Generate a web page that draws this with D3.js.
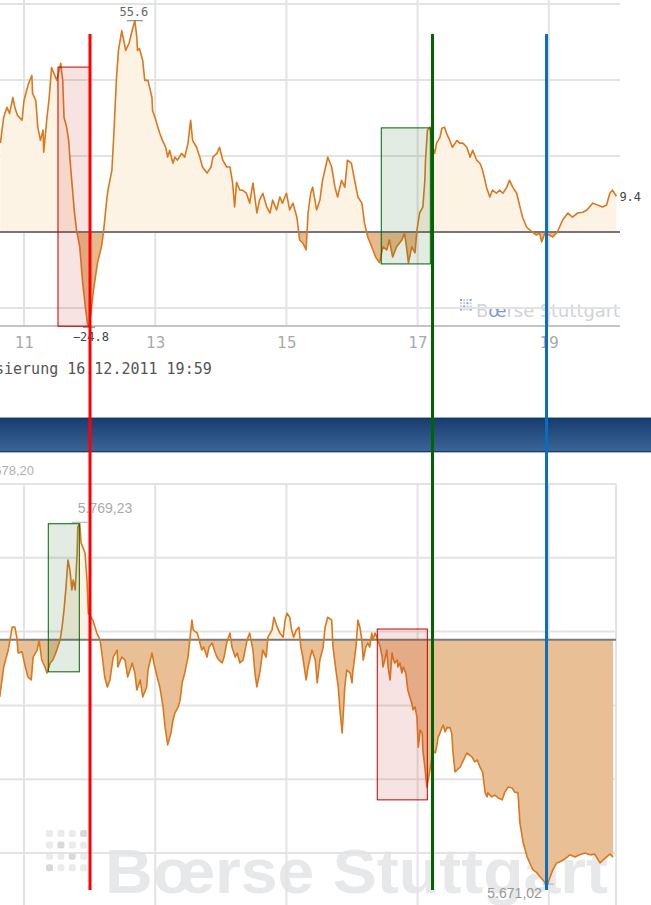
<!DOCTYPE html>
<html><head><meta charset="utf-8">
<script src="https://cdn.jsdelivr.net/npm/d3@7"></script>
<style>html,body{margin:0;padding:0;background:#fff;overflow:hidden}</style>
</head><body>
<svg id="c" width="651" height="905"></svg>
<script>
// ---------- DATA ----------
const hourTicks = [11, 13, 15, 17, 19];
const topGrid = [-20, 0, 20, 40, 60];
const bottomGrid = [5680, 5700, 5720, 5740, 5760, 5780];
const topRef = 0;
const bottomRef = 5737.8;

const topTime = [10.64,10.69,10.74,10.78,10.83,10.86,10.90,10.97,11.00,11.04,11.07,11.12,11.13,11.18,11.21,11.25,11.29,11.30,11.35,11.38,11.42,11.45,11.50,11.56,11.59,11.61,11.65,11.68,11.71,11.74,11.77,11.80,11.85,11.89,11.94,11.97,11.99,12.02,12.06,12.12,12.18,12.21,12.26,12.28,12.34,12.37,12.41,12.44,12.49,12.52,12.55,12.60,12.66,12.69,12.72,12.73,12.76,12.81,12.84,12.89,12.95,12.96,13.01,13.04,13.07,13.11,13.16,13.19,13.22,13.27,13.30,13.34,13.40,13.45,13.50,13.54,13.57,13.63,13.68,13.72,13.79,13.85,13.88,13.94,13.98,14.03,14.09,14.14,14.18,14.21,14.24,14.29,14.33,14.39,14.44,14.49,14.55,14.59,14.64,14.70,14.75,14.79,14.85,14.90,14.94,15.00,15.05,15.10,15.16,15.20,15.25,15.30,15.33,15.37,15.40,15.46,15.51,15.55,15.61,15.63,15.69,15.74,15.78,15.84,15.89,15.93,15.99,16.04,16.09,16.15,16.19,16.24,16.30,16.36,16.42,16.47,16.53,16.57,16.62,16.68,16.76,16.80,16.83,16.86,16.91,16.96,16.99,17.03,17.08,17.11,17.12,17.15,17.19,17.23,17.26,17.29,17.34,17.37,17.41,17.44,17.49,17.53,17.60,17.64,17.69,17.75,17.80,17.84,17.90,17.95,17.99,18.05,18.10,18.14,18.20,18.25,18.30,18.36,18.40,18.45,18.51,18.56,18.60,18.66,18.75,18.81,18.86,18.89,18.94,19.01,19.06,19.13,19.21,19.29,19.36,19.44,19.52,19.58,19.62,19.67,19.74,19.82,19.88,19.93,19.97,20.03];
const topValue = [23.4,30.2,32.8,31.2,35.4,32.8,30.7,29.4,34.6,37.3,39.1,41.2,36.5,34.6,27.6,24.1,26.8,21.0,30.2,34.6,43.3,42.0,39.9,44.4,39.9,30.2,27.6,24.1,17.1,11.0,5.0,0.5,-3.9,-12.6,-20.5,-24.4,-24.8,-21.3,-15.2,-8.1,-3.9,-0.3,8.4,11.0,16.3,26.0,40.7,47.8,53.0,50.4,47.8,49.6,53.8,55.6,51.2,47.8,48.3,45.1,39.9,39.9,35.4,32.0,29.4,27.6,26.0,24.1,22.3,19.7,21.5,18.1,19.7,18.9,20.7,19.7,23.4,29.4,24.1,22.3,19.7,17.1,15.5,17.1,19.7,20.7,22.3,18.9,17.1,17.1,12.9,6.6,13.1,11.0,11.0,10.2,7.6,12.9,5.0,8.4,10.2,6.6,5.0,8.4,5.8,9.2,7.6,10.2,5.8,7.6,3.9,-2.1,-2.9,-4.7,5.0,10.2,11.8,5.8,8.4,13.6,18.1,19.7,17.1,11.8,9.2,13.6,11.8,18.9,18.1,13.6,9.2,7.6,2.4,-1.3,-3.9,-6.6,-8.1,-3.9,-4.7,-2.1,-6.6,-3.9,-2.1,-0.3,-3.9,-8.1,-3.9,-5.5,0.5,5.0,6.6,13.6,18.9,26.8,27.6,22.3,20.7,23.4,24.9,27.3,27.6,26.0,24.1,22.3,24.1,23.4,23.4,22.3,19.7,21.5,18.9,18.1,16.3,11.8,9.2,11.0,10.2,11.0,10.2,11.8,13.6,11.8,10.2,6.6,3.9,1.3,0.0,-0.8,-0.3,-2.6,-0.3,-0.8,-1.3,0.0,3.1,5.0,3.9,5.0,5.2,5.8,6.6,7.6,7.1,6.6,7.1,10.2,11.0,9.4];

const bottomTime = [10.63,10.69,10.76,10.82,10.86,10.89,10.91,10.97,11.02,11.06,11.11,11.14,11.20,11.23,11.27,11.32,11.35,11.40,11.44,11.47,11.50,11.55,11.58,11.61,11.64,11.67,11.70,11.73,11.75,11.78,11.81,11.82,11.85,11.87,11.90,11.93,11.96,11.98,12.02,12.05,12.11,12.16,12.20,12.23,12.27,12.31,12.36,12.42,12.43,12.49,12.54,12.58,12.65,12.69,12.72,12.77,12.81,12.87,12.89,12.95,12.98,13.03,13.07,13.12,13.15,13.18,13.19,13.24,13.27,13.30,13.35,13.38,13.41,13.45,13.50,13.56,13.58,13.64,13.67,13.71,13.74,13.79,13.82,13.87,13.90,13.94,13.97,14.02,14.05,14.09,14.14,14.17,14.22,14.25,14.29,14.34,14.37,14.40,14.44,14.49,14.52,14.55,14.60,14.64,14.69,14.72,14.78,14.81,14.86,14.90,14.95,14.98,15.01,15.05,15.08,15.11,15.15,15.19,15.22,15.25,15.30,15.33,15.39,15.44,15.47,15.51,15.56,15.59,15.63,15.69,15.71,15.76,15.79,15.82,15.85,15.89,15.92,15.97,16.00,16.01,16.06,16.09,16.12,16.15,16.17,16.21,16.24,16.27,16.30,16.32,16.35,16.38,16.43,16.46,16.47,16.50,16.53,16.55,16.58,16.61,16.62,16.65,16.69,16.70,16.73,16.76,16.78,16.82,16.85,16.88,16.91,16.93,16.96,16.99,17.01,17.04,17.07,17.08,17.11,17.14,17.17,17.22,17.23,17.27,17.30,17.31,17.34,17.37,17.39,17.42,17.45,17.46,17.49,17.52,17.54,17.57,17.65,17.75,17.83,17.87,17.91,17.95,17.99,18.03,18.06,18.07,18.13,18.18,18.23,18.29,18.33,18.38,18.44,18.48,18.53,18.56,18.61,18.67,18.71,18.76,18.82,18.87,18.91,18.97,19.02,19.06,19.12,19.17,19.22,19.28,19.32,19.40,19.47,19.55,19.63,19.70,19.78,19.86,19.93,19.98];
const bottomValue = [5722.3,5730.4,5735.0,5741.2,5741.2,5738.5,5734.2,5734.5,5730.4,5727.7,5726.9,5733.1,5735.0,5737.7,5732.3,5730.4,5728.8,5731.5,5732.3,5733.6,5735.0,5737.7,5741.2,5745.9,5752.1,5759.4,5756.7,5751.3,5754.0,5751.3,5761.3,5768.3,5769.23,5764.0,5762.7,5761.3,5754.0,5745.0,5743.9,5743.1,5739.6,5737.7,5732.3,5727.7,5725.0,5726.9,5733.1,5735.0,5730.4,5733.1,5732.3,5727.7,5731.5,5728.8,5724.2,5726.9,5722.3,5725.0,5729.6,5734.2,5731.5,5727.7,5725.0,5719.6,5714.1,5710.6,5709.3,5712.5,5716.0,5717.9,5719.6,5721.5,5726.1,5728.8,5733.1,5743.1,5740.4,5739.6,5737.7,5735.0,5735.8,5733.1,5735.8,5736.9,5735.0,5733.1,5732.3,5731.5,5733.1,5736.9,5739.6,5735.8,5733.1,5734.2,5731.5,5732.3,5735.0,5737.7,5739.6,5735.0,5728.8,5725.0,5729.6,5735.0,5733.1,5738.5,5740.4,5743.9,5741.2,5739.6,5738.5,5743.1,5745.0,5743.9,5740.4,5738.5,5740.4,5741.2,5735.8,5733.1,5726.9,5730.4,5735.0,5732.3,5726.1,5732.3,5735.8,5741.2,5743.9,5743.1,5735.8,5728.8,5725.0,5717.9,5712.5,5725.0,5729.6,5728.8,5726.1,5728.8,5735.8,5743.1,5741.2,5737.7,5732.3,5735.8,5736.9,5735.8,5739.6,5737.7,5739.6,5738.5,5735.8,5733.1,5730.4,5732.3,5735.0,5730.4,5726.9,5734.2,5733.1,5731.5,5732.3,5730.4,5731.5,5728.8,5730.4,5728.8,5724.2,5722.3,5720.7,5718.8,5719.6,5716.9,5708.7,5713.3,5712.5,5707.9,5703.3,5697.9,5700.6,5706.0,5707.9,5707.1,5709.8,5711.2,5712.5,5713.9,5714.7,5712.8,5714.1,5713.9,5714.1,5712.5,5707.1,5702.0,5703.3,5707.1,5706.0,5704.7,5705.2,5703.3,5702.0,5696.3,5695.2,5696.3,5695.2,5695.7,5694.9,5694.4,5696.5,5697.9,5697.6,5696.5,5696.3,5688.1,5682.7,5678.9,5677.3,5675.4,5674.6,5673.5,5672.7,5671.02,5673.5,5675.4,5677.3,5677.6,5678.1,5678.9,5679.5,5678.9,5679.5,5680.0,5679.5,5679.7,5677.3,5678.6,5679.7,5678.9];

// highlight boxes (time range, value range)
const topBoxes = [
  {t0: 11.518, t1: 11.998, v0: 43.4, v1: -24.8, kind: 'red'},
  {t0: 16.446, t1: 17.194, v0: 27.4, v1: -8.4, kind: 'green'}
];
const bottomBoxes = [
  {t0: 11.37, t1: 11.843, v0: 5769.23, v1: 5729.1, kind: 'green'},
  {t0: 16.385, t1: 17.148, v0: 5740.7, v1: 5694.4, kind: 'red'}
];
const markerTimes = [12.006, 17.227, 18.965];
const markerColors = ['#ff0000', '#006400', '#0a6ebe'];
const timestampText = 'sierung 16.12.2011 19:59';
const bottomCornerLabel = '5.678,20';
const brandText = 'B\u0153rse Stuttgart';

// ---------- SETUP ----------
const svg = d3.select('#c');
const de = d3.formatLocale({decimal: ',', thousands: '.', grouping: [3], currency: ['', '€']});
const fmtDe = de.format(',.2f');
const fmtTop = d3.format('.1f');

const x = d3.scaleLinear().domain([10.634, 20.085]).range([0, 620]);
const yT = d3.scaleLinear().domain([-20, 60]).range([308, 4]);
const yB = d3.scaleLinear().domain([5680, 5780]).range([853, 484]);

const topData = topTime.map((t, i) => ({t, v: topValue[i]}));
const botData = bottomTime.map((t, i) => ({t, v: bottomValue[i]}));

const defs = svg.append('defs');
const gr = defs.append('linearGradient').attr('id', 'bar').attr('x1', 0).attr('x2', 0).attr('y1', 0).attr('y2', 1);
gr.append('stop').attr('offset', 0).attr('stop-color', '#173b6e');
gr.append('stop').attr('offset', 1).attr('stop-color', '#3c6797');

function clip(id, y0, y1) {
  defs.append('clipPath').attr('id', id).append('rect').attr('x', -10).attr('width', 680).attr('y', y0).attr('height', y1 - y0);
}
clip('tAbove', 0, yT(topRef));
clip('tBelow', yT(topRef), 330);
clip('bAbove', 480, yB(bottomRef));
clip('bBelow', yB(bottomRef), 905);

const GRID = '#e3e3e3';

// ---------- TOP CHART ----------
const gTop = svg.append('g');
const wmT = gTop.append('g');
for (let r = 0; r < 4; r++) for (let c = 0; c < 4; c++) {
  wmT.append('rect').attr('x', 460 + c * 3.2).attr('y', 299 + r * 3.2).attr('width', 2).attr('height', 2)
    .attr('fill', (r + c) % 3 === 0 ? '#8ea6cf' : '#c9d2e2');
}
const wt = wmT.append('text').attr('x', 476).attr('y', 317).attr('font-family', 'Verdana, DejaVu Sans, sans-serif')
  .attr('font-size', 18).attr('fill', '#cfd2d8').attr('textLength', 144).attr('lengthAdjust', 'spacingAndGlyphs');
wt.append('tspan').text('B');
wt.append('tspan').attr('fill', '#7f9bcb').text('\u0153');
wt.append('tspan').text('rse Stuttgart');

gTop.append('g').selectAll('line').data(hourTicks).join('line')
  .attr('x1', d => x(d)).attr('x2', d => x(d)).attr('y1', 0).attr('y2', 326)
  .attr('stroke', GRID).attr('stroke-width', 2);
gTop.append('g').selectAll('line').data(topGrid.filter(d => d !== topRef)).join('line')
  .attr('x1', 0).attr('x2', 620).attr('y1', d => yT(d)).attr('y2', d => yT(d))
  .attr('stroke', GRID).attr('stroke-width', 2);
gTop.append('line').attr('x1', 0).attr('x2', 620).attr('y1', 326).attr('y2', 326).attr('stroke', '#c4c4c4').attr('stroke-width', 2);

const areaT = d3.area().x(d => x(d.t)).y0(yT(topRef)).y1(d => yT(d.v));
gTop.append('path').datum(topData).attr('d', areaT).attr('fill', '#fdf3e4').attr('clip-path', 'url(#tAbove)');
gTop.append('path').datum(topData).attr('d', areaT).attr('fill', '#e8b98c').attr('clip-path', 'url(#tBelow)');
gTop.append('line').attr('x1', 0).attr('x2', 620).attr('y1', yT(topRef)).attr('y2', yT(topRef)).attr('stroke', '#777').attr('stroke-width', 2);
gTop.append('path').datum(topData).attr('d', d3.line().x(d => x(d.t)).y(d => yT(d.v)))
  .attr('fill', 'none').attr('stroke', '#d9791f').attr('stroke-width', 1.6).attr('stroke-linejoin', 'round');

const ax = gTop.append('g').attr('transform', 'translate(0,326)')
  .call(d3.axisBottom(x).tickValues(hourTicks).tickSize(0).tickPadding(11).tickFormat(d3.format('d')));
ax.select('.domain').remove();
ax.selectAll('text').attr('font-family', 'DejaVu Sans, Verdana, sans-serif').attr('font-size', 15).attr('fill', '#a8a8a8');

const tMax = topData.reduce((a, b) => b.v > a.v ? b : a);
const tMin = topData.reduce((a, b) => b.v < a.v ? b : a);
const tLast = topData[topData.length - 1];
const mono = 'DejaVu Sans Mono, monospace';
gTop.append('text').attr('x', x(tMax.t) - 1).attr('y', yT(tMax.v) - 5).attr('text-anchor', 'middle')
  .attr('font-family', mono).attr('font-size', 12).attr('fill', '#666').text(fmtTop(tMax.v));
gTop.append('line').attr('x1', x(tMax.t) - 8).attr('x2', x(tMax.t) + 8).attr('y1', yT(tMax.v)).attr('y2', yT(tMax.v)).attr('stroke', '#777');
gTop.append('text').attr('x', x(tMin.t) + 2).attr('y', yT(tMin.v) + 15).attr('text-anchor', 'middle')
  .attr('font-family', mono).attr('font-size', 12).attr('fill', '#444').text(fmtTop(tMin.v));
gTop.append('line').attr('x1', x(tMin.t) - 6).attr('x2', x(tMin.t) + 6).attr('y1', yT(tMin.v) + 1).attr('y2', yT(tMin.v) + 1).attr('stroke', '#777');
gTop.append('text').attr('x', x(tLast.t) + 3).attr('y', yT(tLast.v) + 5)
  .attr('font-family', mono).attr('font-size', 12).attr('fill', '#444').text(fmtTop(tLast.v));

gTop.append('text').attr('x', -5).attr('y', 374).attr('font-family', mono).attr('font-size', 15).attr('fill', '#555').text(timestampText);

const boxStyle = {red: {fill: 'rgba(200,40,40,0.13)', stroke: '#c00000'}, green: {fill: 'rgba(30,110,30,0.13)', stroke: '#006400'}};
gTop.append('g').selectAll('rect').data(topBoxes).join('rect')
  .attr('x', d => x(d.t0)).attr('width', d => x(d.t1) - x(d.t0))
  .attr('y', d => yT(d.v0)).attr('height', d => yT(d.v1) - yT(d.v0))
  .attr('fill', d => boxStyle[d.kind].fill).attr('stroke', d => boxStyle[d.kind].stroke).attr('stroke-width', 1);

// ---------- HEADER BAR ----------
svg.append('rect').attr('x', 0).attr('y', 417).attr('width', 651).attr('height', 36).attr('fill', 'url(#bar)');
svg.append('line').attr('x1', 0).attr('x2', 651).attr('y1', 417.5).attr('y2', 417.5).attr('stroke', '#94aacb');
svg.append('line').attr('x1', 0).attr('x2', 651).attr('y1', 418.5).attr('y2', 418.5).attr('stroke', '#13346a');
svg.append('line').attr('x1', 0).attr('x2', 651).attr('y1', 451.5).attr('y2', 451.5).attr('stroke', '#1b3c6c');
svg.append('line').attr('x1', 0).attr('x2', 651).attr('y1', 452.5).attr('y2', 452.5).attr('stroke', '#a9bbd5');

// ---------- BOTTOM CHART ----------
const gBot = svg.append('g');
gBot.append('text').attr('x', 34).attr('y', 475).attr('text-anchor', 'end').attr('font-family', 'Liberation Sans, Arial, sans-serif')
  .attr('font-size', 13).attr('fill', '#b0b0b0').text(bottomCornerLabel);

const wmB = gBot.append('g');
const dark = new Set(['0-3', '1-1', '2-2', '3-0']);
for (let r = 0; r < 4; r++) for (let c = 0; c < 4; c++) {
  wmB.append('rect').attr('x', 46 + c * 11.4).attr('y', 830 + r * 11.4).attr('width', 7).attr('height', 7).attr('rx', 2)
    .attr('fill', dark.has(r + '-' + c) ? '#d8d9db' : '#ebebec');
}
wmB.append('text').attr('x', 105).attr('y', 893).attr('font-family', 'Liberation Sans, Arial, sans-serif').attr('font-weight', 'bold')
  .attr('font-size', 63).attr('fill', '#e7e8ea').attr('textLength', 503).attr('lengthAdjust', 'spacingAndGlyphs').text(brandText);

gBot.append('g').selectAll('line').data(hourTicks.map(h => x(h)).concat([616])).join('line')
  .attr('x1', d => d).attr('x2', d => d).attr('y1', 484).attr('y2', 905)
  .attr('stroke', GRID).attr('stroke-width', 2);
gBot.append('g').selectAll('line').data(bottomGrid).join('line')
  .attr('x1', 0).attr('x2', 616).attr('y1', d => yB(d)).attr('y2', d => yB(d))
  .attr('stroke', GRID).attr('stroke-width', 2);

const areaB = d3.area().x(d => x(d.t)).y0(yB(bottomRef)).y1(d => yB(d.v));
gBot.append('path').datum(botData).attr('d', areaB).attr('fill', '#fdf3e4').attr('clip-path', 'url(#bAbove)');
gBot.append('path').datum(botData).attr('d', areaB).attr('fill', '#e9bf95').attr('clip-path', 'url(#bBelow)');
gBot.append('line').attr('x1', 0).attr('x2', 616).attr('y1', yB(bottomRef)).attr('y2', yB(bottomRef)).attr('stroke', '#7a7a7a').attr('stroke-width', 2);
gBot.append('path').datum(botData).attr('d', d3.line().x(d => x(d.t)).y(d => yB(d.v)))
  .attr('fill', 'none').attr('stroke', '#d9791f').attr('stroke-width', 1.6).attr('stroke-linejoin', 'round');

const bMax = botData.reduce((a, b) => b.v > a.v ? b : a);
const bMin = botData.reduce((a, b) => b.v < a.v ? b : a);
const sans = 'Liberation Sans, Arial, sans-serif';
gBot.append('text').attr('x', x(bMax.t) - 2).attr('y', yB(bMax.v) - 11).attr('font-family', sans).attr('font-size', 14)
  .attr('fill', '#aaa').text(fmtDe(bMax.v));
gBot.append('line').attr('x1', x(bMax.t) - 8).attr('x2', x(bMax.t) + 8).attr('y1', yB(bMax.v) - 1.5).attr('y2', yB(bMax.v) - 1.5).attr('stroke', '#aaa');
gBot.append('text').attr('x', x(bMin.t) - 5).attr('y', yB(bMin.v) + 12).attr('text-anchor', 'end').attr('font-family', sans).attr('font-size', 14)
  .attr('fill', '#999').text(fmtDe(bMin.v));
gBot.append('line').attr('x1', x(bMin.t) - 4).attr('x2', x(bMin.t) + 7).attr('y1', yB(bMin.v) - 2).attr('y2', yB(bMin.v) - 2).attr('stroke', '#aaa');

gBot.append('g').selectAll('rect').data(bottomBoxes).join('rect')
  .attr('x', d => x(d.t0)).attr('width', d => x(d.t1) - x(d.t0))
  .attr('y', d => yB(d.v0)).attr('height', d => yB(d.v1) - yB(d.v0))
  .attr('fill', d => boxStyle[d.kind].fill).attr('stroke', d => boxStyle[d.kind].stroke).attr('stroke-width', 1);

// ---------- VERTICAL MARKERS ----------
svg.append('g').selectAll('line').data(markerTimes).join('line')
  .attr('x1', d => x(d)).attr('x2', d => x(d)).attr('y1', 34).attr('y2', 890)
  .attr('stroke', (d, i) => markerColors[i]).attr('stroke-width', 3);
</script>
</body></html>
